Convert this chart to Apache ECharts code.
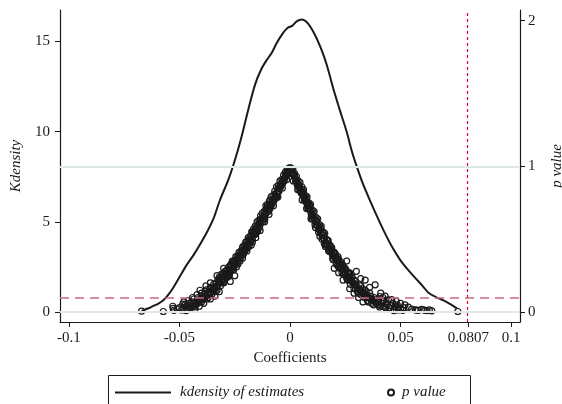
<!DOCTYPE html>
<html>
<head>
<meta charset="utf-8">
<script src="https://cdn.jsdelivr.net/npm/echarts@6/dist/echarts.min.js"></script>
<style>
  html, body { margin: 0; padding: 0; background: #fff; }
  #chart { width: 562px; height: 404px; }
</style>
</head>
<body>
<div id="chart"></div>
<script>
// x ticks / labels
const xTicks = [-0.1, -0.05, 0, 0.05, 0.0807, 0.1]
const xTickLabels = ['-0.1', '-0.05', '0', '0.05', '0.0807', '0.1']
const kTicks = [0, 5, 10, 15]
const pTicks = [0, 1, 2]
const pRefLines = [0, 1]
const pCutoff = 0.1
const xCutoff = 0.0807

// kernel density of estimates [coef, density]
const kdensity = [
  [-0.0671, 0.07], [-0.0640, 0.22], [-0.0618, 0.35], [-0.0595, 0.48], [-0.0573, 0.66],
  [-0.0550, 0.98], [-0.0528, 1.36], [-0.0497, 2.0], [-0.0467, 2.62], [-0.0437, 3.15],
  [-0.0407, 3.75], [-0.0377, 4.4], [-0.0347, 5.15], [-0.0317, 6.2], [-0.0279, 7.33],
  [-0.0249, 8.43], [-0.0219, 9.72], [-0.0189, 11.2], [-0.0158, 12.6], [-0.0130, 13.45],
  [-0.0106, 13.95], [-0.0083, 14.35], [-0.0060, 14.9], [-0.0032, 15.45], [-0.0010, 15.75],
  [0.0010, 15.85], [0.0030, 16.1], [0.0053, 16.2], [0.0080, 16.0], [0.0113, 15.35],
  [0.0140, 14.6], [0.0166, 13.7], [0.0200, 12.2], [0.0225, 11.2], [0.0256, 10.0],
  [0.0280, 8.9], [0.0302, 8.06], [0.0330, 7.1], [0.0354, 6.4], [0.0390, 5.4],
  [0.0422, 4.56], [0.0460, 3.65], [0.0498, 2.9], [0.0530, 2.4], [0.0566, 1.9],
  [0.0600, 1.45], [0.0626, 1.08], [0.0660, 0.84], [0.0694, 0.66], [0.0725, 0.45],
  [0.0756, 0.2]
]

// p values of estimates [coef, p]
const pLeft = [
  [-0.0003, 0.99], [-0.0008, 0.97], [-0.0012, 0.96], [-0.0016, 0.95], [-0.0020, 0.94],
  [-0.0024, 0.92], [-0.0028, 0.915], [-0.0032, 0.90], [-0.0036, 0.89], [-0.0040, 0.87],
  [-0.0044, 0.87], [-0.0048, 0.85], [-0.0052, 0.85], [-0.0056, 0.83], [-0.0060, 0.82],
  [-0.0064, 0.80], [-0.0068, 0.81], [-0.0072, 0.78], [-0.0076, 0.77], [-0.0080, 0.76],
  [-0.0084, 0.75], [-0.0088, 0.73], [-0.0092, 0.74], [-0.0096, 0.71], [-0.0100, 0.70],
  [-0.0104, 0.72], [-0.0108, 0.68], [-0.0112, 0.67], [-0.0116, 0.66], [-0.0120, 0.64],
  [-0.0125, 0.65], [-0.0130, 0.62], [-0.0135, 0.60], [-0.0140, 0.61], [-0.0145, 0.58],
  [-0.0150, 0.55], [-0.0155, 0.57], [-0.0160, 0.53], [-0.0165, 0.54], [-0.0170, 0.50],
  [-0.0175, 0.52], [-0.0180, 0.48], [-0.0185, 0.47], [-0.0190, 0.49], [-0.0195, 0.44],
  [-0.0200, 0.45], [-0.0205, 0.42], [-0.0210, 0.43], [-0.0215, 0.39], [-0.0220, 0.40],
  [-0.0225, 0.37], [-0.0230, 0.38], [-0.0235, 0.35], [-0.0240, 0.34], [-0.0245, 0.36],
  [-0.0250, 0.32], [-0.0255, 0.33], [-0.0260, 0.30], [-0.0265, 0.31], [-0.0270, 0.28],
  [-0.0275, 0.29], [-0.0280, 0.26], [-0.0285, 0.27], [-0.0290, 0.24], [-0.0295, 0.25],
  [-0.0300, 0.23], [-0.0305, 0.22], [-0.0310, 0.24], [-0.0315, 0.20], [-0.0320, 0.21],
  [-0.0325, 0.19], [-0.0330, 0.18], [-0.0335, 0.20], [-0.0340, 0.16], [-0.0345, 0.17],
  [-0.0350, 0.15], [-0.0355, 0.165], [-0.0360, 0.13], [-0.0365, 0.14], [-0.0370, 0.12],
  [-0.0377, 0.153], [-0.0380, 0.11], [-0.0390, 0.10], [-0.0395, 0.085], [-0.0400, 0.09],
  [-0.0407, 0.15], [-0.0410, 0.07], [-0.0420, 0.08], [-0.0425, 0.05], [-0.0430, 0.06],
  [-0.0440, 0.04], [-0.0445, 0.07], [-0.0450, 0.03], [-0.0460, 0.035], [-0.0465, 0.02],
  [-0.0475, 0.05], [-0.0480, 0.025], [-0.0490, 0.015], [-0.0500, 0.03], [-0.0510, 0.02],
  [-0.0525, 0.012], [-0.0528, 0.025], [-0.0530, 0.04], [-0.0573, 0.004], [-0.0671, 0.006],
  [-0.0060, 0.79], [-0.0090, 0.77], [-0.0110, 0.70], [-0.0135, 0.63], [-0.0150, 0.59],
  [-0.0170, 0.55], [-0.0185, 0.50], [-0.0200, 0.48], [-0.0215, 0.44], [-0.0230, 0.41],
  [-0.0245, 0.33], [-0.0260, 0.34], [-0.0275, 0.25], [-0.0290, 0.28], [-0.0300, 0.20],
  [-0.0320, 0.24], [-0.0330, 0.15], [-0.0345, 0.19], [-0.0360, 0.17], [-0.0370, 0.10],
  [-0.0385, 0.13], [-0.0400, 0.07], [-0.0415, 0.10], [-0.0435, 0.09], [-0.0455, 0.06],
  [-0.0470, 0.04], [-0.0485, 0.055],
  [-0.0010, 0.95], [-0.0018, 0.93], [-0.0026, 0.90], [-0.0034, 0.88], [-0.0042, 0.86],
  [-0.0050, 0.83], [-0.0058, 0.81], [-0.0066, 0.78], [-0.0074, 0.76], [-0.0082, 0.74],
  [-0.0090, 0.71], [-0.0098, 0.69], [-0.0106, 0.71], [-0.0114, 0.64], [-0.0122, 0.62],
  [-0.0130, 0.64], [-0.0138, 0.58], [-0.0146, 0.56], [-0.0154, 0.54], [-0.0162, 0.55],
  [-0.0170, 0.48], [-0.0178, 0.49], [-0.0186, 0.45], [-0.0194, 0.46], [-0.0202, 0.43],
  [-0.0210, 0.40], [-0.0218, 0.41], [-0.0226, 0.35], [-0.0234, 0.39], [-0.0242, 0.31],
  [-0.0250, 0.35], [-0.0258, 0.29], [-0.0266, 0.33], [-0.0274, 0.27], [-0.0282, 0.24],
  [-0.0290, 0.26], [-0.0298, 0.21], [-0.0306, 0.25], [-0.0314, 0.18], [-0.0322, 0.22],
  [-0.0330, 0.17], [-0.0338, 0.14], [-0.0346, 0.15], [-0.0354, 0.12], [-0.0362, 0.16],
  [-0.0375, 0.09], [-0.0388, 0.12], [-0.0402, 0.11], [-0.0418, 0.06], [-0.0432, 0.035],
  [-0.0448, 0.05],
  [-0.0005, 0.96], [-0.0013, 0.98], [-0.0021, 0.96], [-0.0029, 0.94], [-0.0037, 0.91],
  [-0.0045, 0.90], [-0.0053, 0.87], [-0.0061, 0.86], [-0.0069, 0.83], [-0.0077, 0.80],
  [-0.0085, 0.79], [-0.0093, 0.76], [-0.0101, 0.74], [-0.0109, 0.73], [-0.0117, 0.69],
  [-0.0125, 0.68], [-0.0133, 0.66], [-0.0141, 0.63], [-0.0149, 0.62], [-0.0157, 0.59],
  [-0.0165, 0.57], [-0.0173, 0.55], [-0.0181, 0.52], [-0.0189, 0.51], [-0.0197, 0.48],
  [-0.0205, 0.46], [-0.0213, 0.45], [-0.0221, 0.42], [-0.0229, 0.41], [-0.0237, 0.38],
  [-0.0245, 0.38], [-0.0253, 0.35], [-0.0261, 0.35], [-0.0269, 0.32], [-0.0277, 0.31],
  [-0.0285, 0.29], [-0.0293, 0.28], [-0.0301, 0.26], [-0.0309, 0.26], [-0.0317, 0.23],
  [-0.0325, 0.22],
  [-0.0015, 0.91], [-0.0035, 0.85], [-0.0055, 0.79], [-0.0075, 0.73], [-0.0095, 0.67],
  [-0.0115, 0.62], [-0.0135, 0.56], [-0.0155, 0.51], [-0.0175, 0.46], [-0.0195, 0.42],
  [-0.0215, 0.37], [-0.0235, 0.33], [-0.0255, 0.29], [-0.0275, 0.26], [-0.0295, 0.22],
  [-0.0300, 0.30], [-0.0330, 0.25], [-0.0360, 0.20], [-0.0380, 0.18], [-0.0400, 0.13],
  [-0.0420, 0.12], [-0.0440, 0.10], [-0.0460, 0.08], [-0.0480, 0.07], [-0.0430, 0.02],
  [-0.0470, 0.01], [-0.0390, 0.06], [-0.0410, 0.04], [-0.0360, 0.09], [-0.0340, 0.11],
  [-0.0320, 0.14], [-0.0270, 0.21], [-0.0250, 0.25]
]
const pRight = [
  [0.0003, 0.99], [0.0007, 0.975], [0.0011, 0.96], [0.0015, 0.95], [0.0019, 0.935],
  [0.0023, 0.92], [0.0027, 0.91], [0.0031, 0.89], [0.0035, 0.88], [0.0039, 0.865],
  [0.0043, 0.855], [0.0047, 0.84], [0.0051, 0.83], [0.0055, 0.81], [0.0059, 0.80],
  [0.0063, 0.79], [0.0067, 0.775], [0.0071, 0.76], [0.0075, 0.75], [0.0079, 0.73],
  [0.0083, 0.72], [0.0087, 0.71], [0.0091, 0.70], [0.0095, 0.68], [0.0100, 0.67],
  [0.0105, 0.65], [0.0110, 0.64], [0.0115, 0.62], [0.0120, 0.60], [0.0125, 0.59],
  [0.0130, 0.57], [0.0135, 0.56], [0.0140, 0.54], [0.0145, 0.53], [0.0150, 0.51],
  [0.0155, 0.50], [0.0160, 0.48], [0.0165, 0.47], [0.0170, 0.46], [0.0175, 0.44],
  [0.0180, 0.43], [0.0185, 0.42], [0.0190, 0.40], [0.0195, 0.39], [0.0200, 0.38],
  [0.0205, 0.37], [0.0210, 0.36], [0.0215, 0.35], [0.0220, 0.34], [0.0225, 0.33],
  [0.0230, 0.31], [0.0235, 0.30], [0.0240, 0.29], [0.0245, 0.28], [0.0250, 0.27],
  [0.0256, 0.35], [0.0260, 0.25], [0.0265, 0.24], [0.0270, 0.235], [0.0275, 0.22],
  [0.0280, 0.21], [0.0285, 0.20], [0.0290, 0.19], [0.0295, 0.185], [0.0300, 0.28],
  [0.0305, 0.17], [0.0310, 0.16], [0.0315, 0.155], [0.0320, 0.15], [0.0325, 0.14],
  [0.0330, 0.135], [0.0335, 0.13], [0.0340, 0.12], [0.0345, 0.115], [0.0350, 0.11],
  [0.0355, 0.10], [0.0360, 0.095], [0.0365, 0.09], [0.0370, 0.085], [0.0375, 0.08],
  [0.0380, 0.075], [0.0385, 0.187], [0.0390, 0.06], [0.0395, 0.07], [0.0400, 0.05],
  [0.0407, 0.107], [0.0410, 0.045], [0.0415, 0.06], [0.0420, 0.04], [0.0425, 0.08],
  [0.0430, 0.035], [0.0440, 0.05], [0.0445, 0.084], [0.0450, 0.03], [0.0465, 0.06],
  [0.0475, 0.038], [0.0480, 0.02], [0.0485, 0.05], [0.0490, 0.03], [0.0500, 0.025],
  [0.0515, 0.03], [0.0535, 0.034], [0.0566, 0.016], [0.0580, 0.012], [0.0595, 0.018],
  [0.0603, 0.016], [0.0620, 0.01], [0.0630, 0.015], [0.0641, 0.009], [0.0759, 0.004],
  [0.0040, 0.84], [0.0060, 0.82], [0.0080, 0.75], [0.0100, 0.64], [0.0120, 0.63],
  [0.0140, 0.57], [0.0160, 0.45], [0.0180, 0.46], [0.0200, 0.41], [0.0220, 0.31],
  [0.0240, 0.32], [0.0260, 0.22], [0.0270, 0.27], [0.0290, 0.22], [0.0310, 0.13],
  [0.0320, 0.18], [0.0340, 0.15], [0.0350, 0.08], [0.0360, 0.13], [0.0370, 0.06],
  [0.0380, 0.10], [0.0400, 0.08], [0.0420, 0.10], [0.0435, 0.06],
  [0.0009, 0.95], [0.0017, 0.94], [0.0025, 0.90], [0.0033, 0.87], [0.0041, 0.87],
  [0.0049, 0.82], [0.0057, 0.83], [0.0065, 0.77], [0.0073, 0.78], [0.0081, 0.71],
  [0.0089, 0.73], [0.0097, 0.66], [0.0105, 0.68], [0.0113, 0.60], [0.0121, 0.62],
  [0.0129, 0.55], [0.0137, 0.58], [0.0145, 0.50], [0.0153, 0.53], [0.0161, 0.46],
  [0.0169, 0.49], [0.0177, 0.42], [0.0185, 0.45], [0.0193, 0.37], [0.0201, 0.40],
  [0.0209, 0.33], [0.0217, 0.38], [0.0225, 0.30], [0.0233, 0.34], [0.0241, 0.26],
  [0.0249, 0.30], [0.0257, 0.23], [0.0265, 0.27], [0.0273, 0.19], [0.0281, 0.24],
  [0.0289, 0.16], [0.0297, 0.21], [0.0305, 0.14], [0.0313, 0.19], [0.0321, 0.12],
  [0.0329, 0.16], [0.0337, 0.10], [0.0345, 0.14], [0.0355, 0.07], [0.0365, 0.11],
  [0.0378, 0.05], [0.0392, 0.09], [0.0405, 0.035], [0.0418, 0.075], [0.0432, 0.03],
  [0.0455, 0.045], [0.0470, 0.02],
  [0.0005, 0.955], [0.0013, 0.98], [0.0021, 0.95], [0.0029, 0.93], [0.0037, 0.90],
  [0.0045, 0.89], [0.0053, 0.86], [0.0061, 0.84], [0.0069, 0.80], [0.0077, 0.79],
  [0.0085, 0.75], [0.0093, 0.74], [0.0101, 0.70], [0.0109, 0.69], [0.0117, 0.65],
  [0.0125, 0.64], [0.0133, 0.60], [0.0141, 0.59], [0.0149, 0.55], [0.0157, 0.54],
  [0.0165, 0.50], [0.0173, 0.49], [0.0181, 0.45], [0.0189, 0.44], [0.0197, 0.41],
  [0.0205, 0.40], [0.0213, 0.37], [0.0221, 0.36], [0.0229, 0.33], [0.0237, 0.32],
  [0.0245, 0.30], [0.0253, 0.29], [0.0261, 0.27], [0.0269, 0.26], [0.0277, 0.24],
  [0.0015, 0.90], [0.0035, 0.84], [0.0055, 0.77], [0.0075, 0.71], [0.0095, 0.64],
  [0.0115, 0.58], [0.0135, 0.52], [0.0155, 0.47], [0.0175, 0.42], [0.0195, 0.36],
  [0.0215, 0.32], [0.0235, 0.27], [0.0255, 0.24],
  [0.0200, 0.30], [0.0220, 0.27], [0.0240, 0.22], [0.0270, 0.16], [0.0290, 0.13],
  [0.0310, 0.10], [0.0330, 0.07], [0.0340, 0.22], [0.0360, 0.17], [0.0320, 0.23],
  [0.0410, 0.13], [0.0430, 0.11], [0.0460, 0.085], [0.0480, 0.075], [0.0500, 0.06],
  [0.0520, 0.05], [0.0470, 0.01], [0.0490, 0.015], [0.0510, 0.012], [0.0550, 0.02],
  [0.0570, 0.013], [0.0610, 0.012]
]

const font = 'Liberation Serif'
const ink = '#1a1a1a'
const chart = echarts.init(document.getElementById('chart'))

const option = {
  animation: false,
  textStyle: { fontFamily: font, color: ink },
  grid: { left: 60, right: 42, top: 10, bottom: 82, containLabel: false, outerBoundsMode: 'none' },
  xAxis: {
    type: 'value',
    min: -0.104,
    max: 0.104,
    name: 'Coefficients',
    nameLocation: 'middle',
    nameGap: 24,
    nameTextStyle: { fontFamily: font, fontSize: 15, color: ink },
    axisLine: { onZero: false, lineStyle: { color: ink, width: 1.2 } },
    axisTick: { customValues: xTicks, length: 5, lineStyle: { color: ink } },
    axisLabel: {
      customValues: xTicks,
      margin: 9,
      fontSize: 15,
      color: ink,
      formatter: v => {
        const i = xTicks.findIndex(t => Math.abs(t - v) < 1e-6)
        return i >= 0 ? xTickLabels[i] : ''
      }
    },
    splitLine: { show: false }
  },
  yAxis: [
    {
      type: 'value',
      min: -0.54,
      max: 16.73,
      position: 'left',
      name: 'Kdensity',
      nameLocation: 'middle',
      nameRotate: 90,
      nameGap: 36,
      nameTextStyle: { fontFamily: font, fontSize: 15, fontStyle: 'italic', color: ink },
      axisLine: { show: true, onZero: false, lineStyle: { color: ink, width: 1.2 } },
      axisTick: { show: true, customValues: kTicks, length: 5, lineStyle: { color: ink } },
      axisLabel: { customValues: kTicks, margin: 10, fontSize: 15, color: ink },
      splitLine: { show: false }
    },
    {
      type: 'value',
      min: -0.068,
      max: 2.073,
      position: 'right',
      name: 'p value',
      nameLocation: 'middle',
      nameRotate: 90,
      nameGap: 30,
      nameTextStyle: { fontFamily: font, fontSize: 15, fontStyle: 'italic', color: ink },
      axisLine: { show: true, onZero: false, lineStyle: { color: ink, width: 1.2 } },
      axisTick: { show: true, customValues: pTicks, length: 5, lineStyle: { color: ink } },
      axisLabel: { customValues: pTicks, margin: 8, fontSize: 15, color: ink },
      splitLine: { show: false }
    }
  ],
  legend: [
    {
      left: 115,
      top: 385,
      icon: 'rect',
      itemWidth: 56,
      itemHeight: 2,
      padding: 0,
      data: ['kdensity of estimates'],
      textStyle: { fontFamily: font, fontSize: 15, fontStyle: 'italic', color: ink, padding: [0, 0, 0, 4] }
    },
    {
      left: 387,
      top: 385,
      itemWidth: 6,
      itemHeight: 6,
      padding: 0,
      data: ['p value'],
      textStyle: { fontFamily: font, fontSize: 15, fontStyle: 'italic', color: ink, padding: [0, 0, 0, 3] }
    }
  ],
  graphic: [
    {
      type: 'rect',
      shape: { x: 108.5, y: 375.5, width: 362, height: 40 },
      style: { fill: 'none', stroke: ink, lineWidth: 1 },
      silent: true
    }
  ],
  series: [
    {
      name: 'ref',
      type: 'line',
      yAxisIndex: 1,
      data: [],
      z: 1,
      silent: true,
      markLine: {
        silent: true,
        symbol: ['none', 'none'],
        label: { show: false },
        lineStyle: { color: '#dde8ea', width: 2, type: 'solid' },
        data: pRefLines.map(v => ({ yAxis: v }))
      }
    },
    {
      name: 'kdensity of estimates',
      type: 'line',
      yAxisIndex: 0,
      data: kdensity,
      smooth: 0.3,
      showSymbol: false,
      symbol: 'none',
      lineStyle: { color: ink, width: 2 },
      itemStyle: { color: ink },
      z: 3,
      markLine: {
        silent: true,
        symbol: ['none', 'none'],
        label: { show: false },
        lineStyle: { color: '#e8002a', width: 1.2, type: [3, 3] },
        data: [{ xAxis: xCutoff }]
      }
    },
    {
      name: 'p value',
      type: 'scatter',
      yAxisIndex: 1,
      data: pLeft.concat(pRight),
      symbol: 'circle',
      symbolSize: 6,
      itemStyle: { color: 'rgba(255,255,255,0)', borderColor: ink, borderWidth: 1.2, opacity: 1 },
      z: 2,
      markLine: {
        silent: true,
        symbol: ['none', 'none'],
        label: { show: false },
        lineStyle: { color: '#cc6a80', width: 1.5, type: [9, 6] },
        data: [{ yAxis: pCutoff }]
      }
    }
  ]
}
chart.setOption(option)
</script>
</body>
</html>
